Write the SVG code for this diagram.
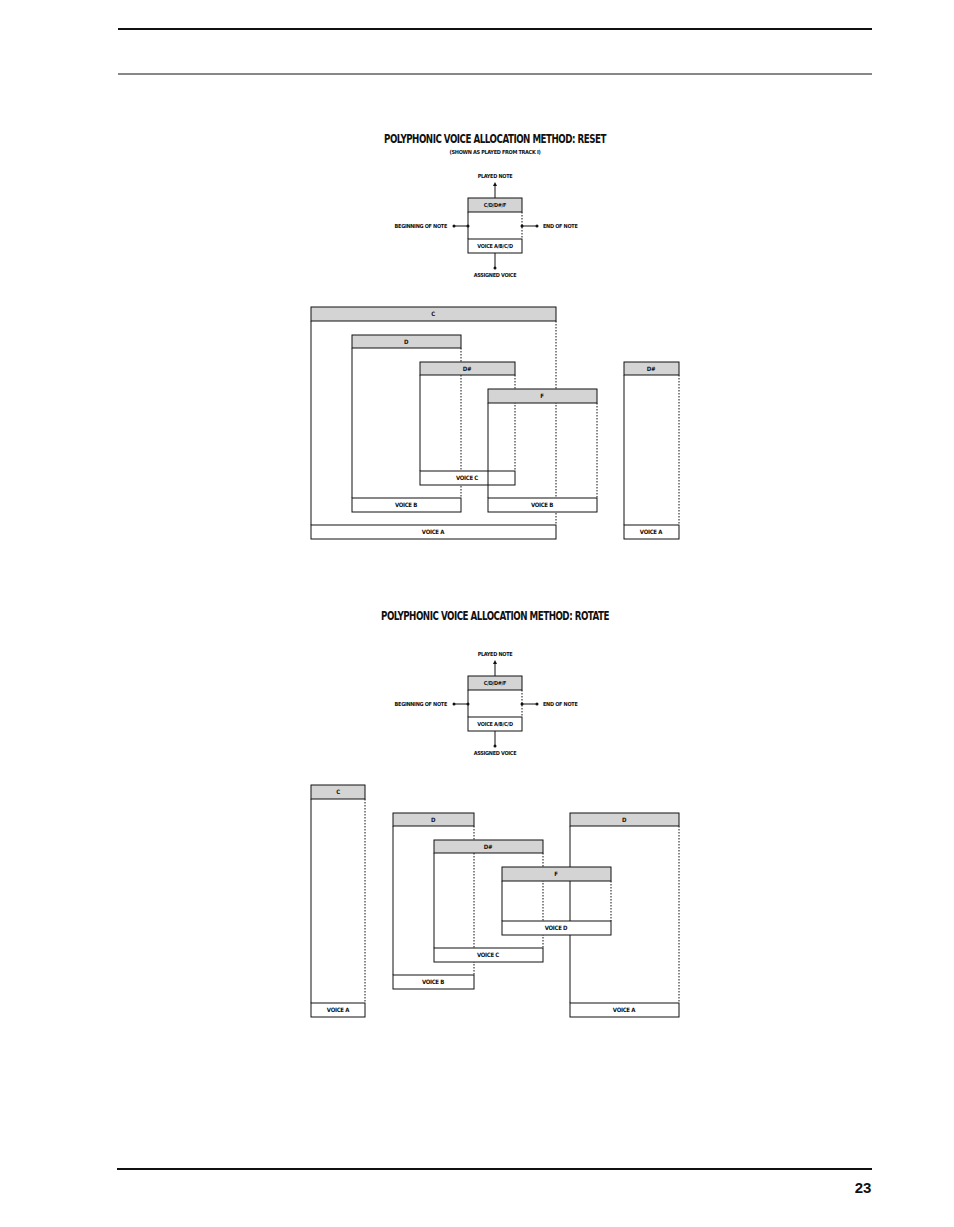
<svg xmlns="http://www.w3.org/2000/svg" width="954" height="1227" viewBox="0 0 954 1227">
<style>
text{font-family:"DejaVu Sans Condensed","DejaVu Sans",sans-serif;font-stretch:condensed;font-weight:bold;fill:#111;text-anchor:middle}
.t{font-size:12px;letter-spacing:-0.6px}
.s{font-size:6px;letter-spacing:-0.3px}
.l{font-size:5.5px;letter-spacing:-0.3px}
.hd{fill:#d4d4d4;stroke:#111;stroke-width:1}
.ft{fill:#fff;stroke:#111;stroke-width:1}
.sl{stroke:#111;stroke-width:1}
.dl{stroke:#111;stroke-width:1;stroke-dasharray:1.5 1.5}
.ln{stroke:#111;stroke-width:1;fill:none}
</style>
<defs>
<marker id="ah" viewBox="0 0 6 6" refX="3" refY="3" markerWidth="4" markerHeight="4" orient="auto"><path d="M0,0L6,3L0,6z" fill="#111"/></marker>
<circle id="dot" r="1.5" fill="#111"/>
</defs>
<line x1="118" y1="29" x2="872" y2="29" stroke="#111" stroke-width="2"/>
<line x1="118" y1="74" x2="872" y2="74" stroke="#111" stroke-width="1"/>
<line x1="117" y1="1169" x2="872" y2="1169" stroke="#111" stroke-width="2"/>
<text x="863" y="1193" style="font-family:'Liberation Sans',sans-serif;font-stretch:normal;font-size:15px">23</text>

<text class="t" x="495" y="143" textLength="222" lengthAdjust="spacingAndGlyphs">POLYPHONIC VOICE ALLOCATION METHOD: RESET</text>
<text class="l" x="495" y="154">(SHOWN AS PLAYED FROM TRACK I)</text>
<text class="t" x="495" y="620" textLength="228" lengthAdjust="spacingAndGlyphs">POLYPHONIC VOICE ALLOCATION METHOD: ROTATE</text>

<g id="legend1">
<g class="ln"><line x1="495" y1="198" x2="495" y2="184" marker-end="url(#ah)"/><line x1="468" y1="226" x2="454" y2="226"/><line x1="522" y1="226" x2="537" y2="226"/><line x1="495" y1="253" x2="495" y2="268"/></g>
<line class="sl" x1="468" y1="212" x2="468" y2="239"/><line class="dl" x1="522" y1="212" x2="522" y2="239"/>
<rect class="hd" x="468" y="198" width="54" height="14"/><rect class="ft" x="468" y="239" width="54" height="14"/>
<use href="#dot" x="468" y="226"/><use href="#dot" x="454" y="226"/><use href="#dot" x="522" y="226"/><use href="#dot" x="537" y="226"/><use href="#dot" x="495" y="268"/>
<text class="l" x="495" y="207">C/D/D#/F</text><text class="l" x="495" y="248">VOICE A/B/C/D</text>
<text class="l" x="495" y="178">PLAYED NOTE</text><text class="l" x="495" y="277">ASSIGNED VOICE</text>
<text class="l" x="447" y="228" style="text-anchor:end">BEGINNING OF NOTE</text><text class="l" x="543" y="228" style="text-anchor:start">END OF NOTE</text>
</g>
<g id="legend2">
<g class="ln"><line x1="495" y1="676" x2="495" y2="662" marker-end="url(#ah)"/><line x1="468" y1="704" x2="454" y2="704"/><line x1="522" y1="704" x2="537" y2="704"/><line x1="495" y1="731" x2="495" y2="746"/></g>
<line class="sl" x1="468" y1="690" x2="468" y2="717"/><line class="dl" x1="522" y1="690" x2="522" y2="717"/>
<rect class="hd" x="468" y="676" width="54" height="14"/><rect class="ft" x="468" y="717" width="54" height="14"/>
<use href="#dot" x="468" y="704"/><use href="#dot" x="454" y="704"/><use href="#dot" x="522" y="704"/><use href="#dot" x="537" y="704"/><use href="#dot" x="495" y="746"/>
<text class="l" x="495" y="685">C/D/D#/F</text><text class="l" x="495" y="726">VOICE A/B/C/D</text>
<text class="l" x="495" y="656">PLAYED NOTE</text><text class="l" x="495" y="755">ASSIGNED VOICE</text>
<text class="l" x="447" y="706" style="text-anchor:end">BEGINNING OF NOTE</text><text class="l" x="543" y="706" style="text-anchor:start">END OF NOTE</text>
</g>

<!-- RESET -->
<g id="r-c"><line class="sl" x1="311" y1="321" x2="311" y2="525"/><line class="dl" x1="556" y1="321" x2="556" y2="525"/><rect class="hd" x="311" y="307" width="245" height="14"/><rect class="ft" x="311" y="525" width="245" height="14"/><text class="s" x="433" y="316">C</text><text class="s" x="433" y="534">VOICE A</text></g>
<g id="r-d"><line class="sl" x1="352" y1="348" x2="352" y2="498"/><line class="dl" x1="461" y1="348" x2="461" y2="498"/><rect class="hd" x="352" y="335" width="109" height="13"/><rect class="ft" x="352" y="498" width="109" height="14"/><text class="s" x="406" y="344">D</text><text class="s" x="406" y="507">VOICE B</text></g>
<g id="r-ds"><line class="sl" x1="420" y1="375" x2="420" y2="471"/><line class="dl" x1="515" y1="375" x2="515" y2="471"/><rect class="hd" x="420" y="362" width="95" height="13"/><rect class="ft" x="420" y="471" width="95" height="14"/><text class="s" x="467" y="371">D#</text><text class="s" x="467" y="480">VOICE C</text></g>
<g id="r-f"><line class="sl" x1="488" y1="403" x2="488" y2="498"/><line class="dl" x1="597" y1="403" x2="597" y2="498"/><rect class="hd" x="488" y="389" width="109" height="14"/><rect class="ft" x="488" y="498" width="109" height="14"/><text class="s" x="542" y="398">F</text><text class="s" x="542" y="507">VOICE B</text></g>
<g id="r-ds2"><line class="sl" x1="624" y1="375" x2="624" y2="525"/><line class="dl" x1="679" y1="375" x2="679" y2="525"/><rect class="hd" x="624" y="362" width="55" height="13"/><rect class="ft" x="624" y="525" width="55" height="14"/><text class="s" x="651" y="371">D#</text><text class="s" x="651" y="534">VOICE A</text></g>

<!-- ROTATE -->
<g id="o-c"><line class="sl" x1="311" y1="799" x2="311" y2="1003"/><line class="dl" x1="365" y1="799" x2="365" y2="1003"/><rect class="hd" x="311" y="785" width="54" height="14"/><rect class="ft" x="311" y="1003" width="54" height="14"/><text class="s" x="338" y="794">C</text><text class="s" x="338" y="1012">VOICE A</text></g>
<g id="o-d"><line class="sl" x1="393" y1="826" x2="393" y2="975"/><line class="dl" x1="474" y1="826" x2="474" y2="975"/><rect class="hd" x="393" y="813" width="81" height="13"/><rect class="ft" x="393" y="975" width="81" height="14"/><text class="s" x="433" y="822">D</text><text class="s" x="433" y="984">VOICE B</text></g>
<g id="o-ds"><line class="sl" x1="434" y1="853" x2="434" y2="948"/><line class="dl" x1="543" y1="853" x2="543" y2="948"/><rect class="hd" x="434" y="840" width="109" height="13"/><rect class="ft" x="434" y="948" width="109" height="14"/><text class="s" x="488" y="849">D#</text><text class="s" x="488" y="957">VOICE C</text></g>
<g id="o-d2"><line class="sl" x1="570" y1="826" x2="570" y2="1003"/><line class="dl" x1="679" y1="826" x2="679" y2="1003"/><rect class="hd" x="570" y="813" width="109" height="13"/><rect class="ft" x="570" y="1003" width="109" height="14"/><text class="s" x="624" y="822">D</text><text class="s" x="624" y="1012">VOICE A</text></g>
<g id="o-f"><line class="sl" x1="502" y1="881" x2="502" y2="921"/><line class="dl" x1="611" y1="881" x2="611" y2="921"/><rect class="hd" x="502" y="867" width="109" height="14"/><rect class="ft" x="502" y="921" width="109" height="14"/><text class="s" x="556" y="876">F</text><text class="s" x="556" y="930">VOICE D</text></g>
</svg>
